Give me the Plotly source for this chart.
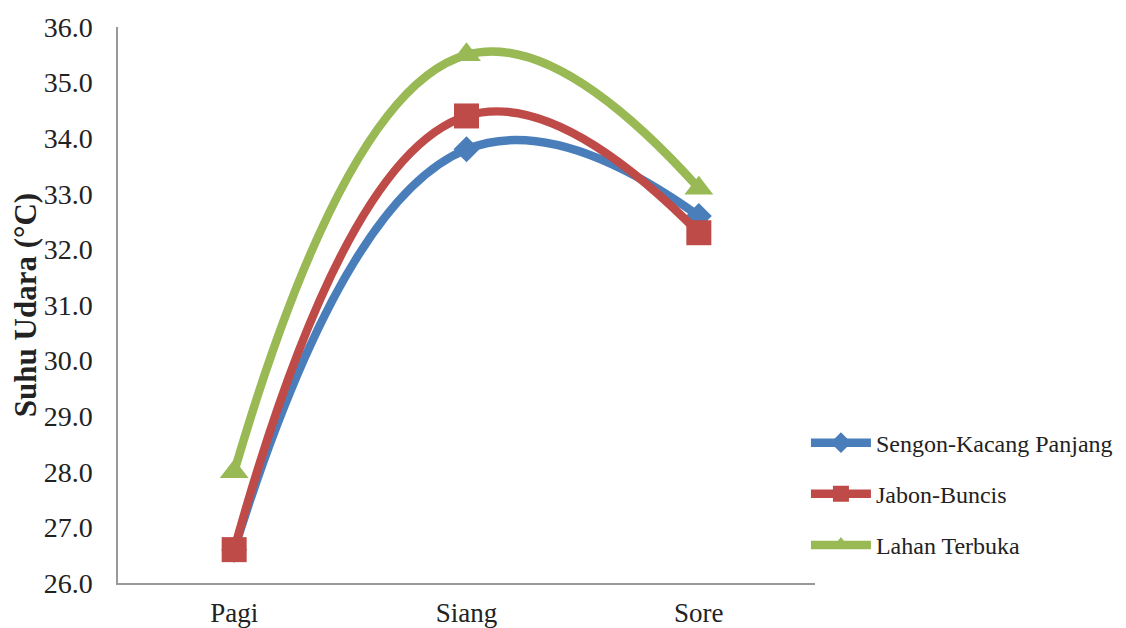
import plotly.graph_objects as go

categories = ["Pagi", "Siang", "Sore"]
sengon = [26.6, 33.8, 32.6]
jabon = [26.6, 34.4, 32.3]
lahan = [28.0, 35.5, 33.1]
series_names = ["Sengon-Kacang Panjang", "Jabon-Buncis", "Lahan Terbuka"]
y_ticks = [26.0, 27.0, 28.0, 29.0, 30.0, 31.0, 32.0, 33.0, 34.0, 35.0, 36.0]

font_family = "Liberation Serif, Times New Roman, serif"

fig = go.Figure()
styles = [
    (sengon, "#4a7ebb", "diamond", 20),
    (jabon, "#be4b48", "square", 25),
    (lahan, "#98b954", "triangle-up", 25),
]
for i, (name, (vals, color, sym, size)) in enumerate(zip(series_names, styles)):
    fig.add_trace(go.Scatter(
        x=categories, y=vals, name=name, mode="lines+markers",
        legendgroup=f"g{i}",
        line=dict(color=color, width=8.5, shape="spline", smoothing=1.3),
        marker=dict(symbol=sym, size=size, color=color),
    ))

fig.update_layout(
    width=1118, height=620,
    margin=dict(l=110, r=311, t=19, b=45, autoexpand=False),
    paper_bgcolor="white", plot_bgcolor="white",
    font=dict(family=font_family, size=26, color="#222"),
    showlegend=True,
    legend=dict(x=0.987, xanchor="left", y=0.16, yanchor="middle",
                font=dict(size=24, family=font_family, color="#222"),
                tracegroupgap=17, itemwidth=60, traceorder="grouped",
                bgcolor="rgba(0,0,0,0)"),
    xaxis=dict(type="category", range=[-0.5, 2.5], showgrid=False,
               showline=True, linecolor="#999", linewidth=1.5,
               ticks="", ticklabelstandoff=5, automargin=False,
               tickfont=dict(size=27, family=font_family, color="#222")),
    yaxis=dict(range=[26.0, 36.0], tickvals=y_ticks,
               ticktext=[f"{v:.1f}" for v in y_ticks],
               showgrid=False, zeroline=False, showline=True,
               linecolor="#999", linewidth=1.5, ticks="", ticklabelstandoff=18,
               automargin=False,
               tickfont=dict(size=28, family=font_family, color="#222"),
               title=dict(text="<b>Suhu Udara (°C)</b>", standoff=10,
                          font=dict(size=31, family=font_family, color="#222"))),
)

fig.write_html("out.html")
